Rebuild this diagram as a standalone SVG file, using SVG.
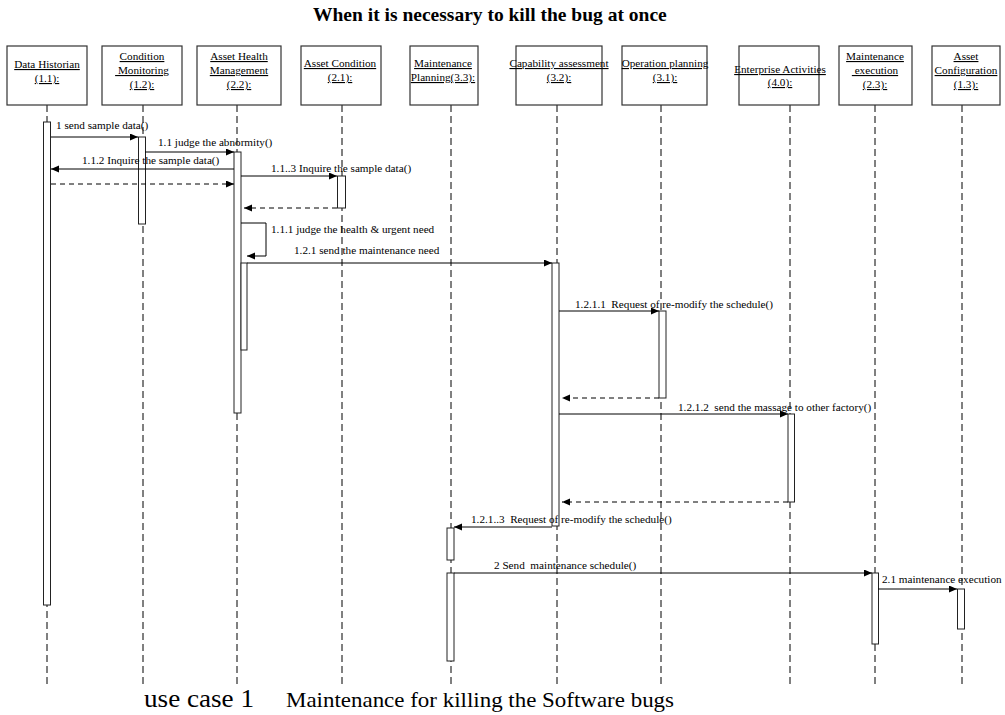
<svg xmlns="http://www.w3.org/2000/svg" width="1005" height="715" viewBox="0 0 1005 715" font-family="'Liberation Serif', 'Times New Roman', serif">
  <defs>
    <marker id="arrow" markerUnits="userSpaceOnUse" markerWidth="9" markerHeight="8" refX="8" refY="3.5" orient="auto">
      <path d="M0,0 L8,3.5 L0,7 z" fill="#000"/>
    </marker>
    <style>
      text { font-family: "Liberation Serif", "Times New Roman", serif; fill: #000; white-space: pre; }
      .title { font-size: 19.5px; font-weight: bold; }
      .obj { fill: #fff; stroke: #333; stroke-width: 1.2; }
      .name { font-size: 11.2px; text-anchor: middle; text-decoration: underline; }
      .life { stroke: #000; stroke-width: 1; stroke-dasharray: 7 4; fill: none; }
      .act { fill: #fff; stroke: #222; stroke-width: 1; }
      .msg { stroke: #000; stroke-width: 1; fill: none; marker-end: url(#arrow); }
      .ret { stroke: #000; stroke-width: 1; fill: none; stroke-dasharray: 5 4; marker-end: url(#arrow); }
      .lbl { font-size: 11.2px; }
      .cap { font-size: 26px; }
      .cap2 { font-size: 21px; }
    </style>
  </defs>

  <rect width="1005" height="715" fill="#fff"/>

  <text class="title" x="313" y="21">When it is necessary to kill the bug at once</text>

  <!-- lifelines -->
  <g id="lifelines">
    <line class="life" x1="47" y1="105" x2="47" y2="685"/>
    <line class="life" x1="143" y1="105" x2="143" y2="685"/>
    <line class="life" x1="237" y1="105" x2="237" y2="685"/>
    <line class="life" x1="342" y1="105" x2="342" y2="685"/>
    <line class="life" x1="451" y1="105" x2="451" y2="685"/>
    <line class="life" x1="557" y1="105" x2="557" y2="685"/>
    <line class="life" x1="661" y1="105" x2="661" y2="685"/>
    <line class="life" x1="790" y1="105" x2="790" y2="685"/>
    <line class="life" x1="875" y1="105" x2="875" y2="685"/>
    <line class="life" x1="962" y1="105" x2="962" y2="685"/>
  </g>

  <!-- objects -->
  <g id="data-historian">
    <rect class="obj" x="7" y="46" width="80" height="59"/>
    <text class="name" x="47" y="68">Data Historian</text>
    <text class="name" x="47" y="82">(1.1):</text>
    <rect class="act" x="43.5" y="122" width="7" height="483"/>
  </g>
  <g id="condition-monitoring">
    <rect class="obj" x="102" y="46" width="80" height="59"/>
    <text class="name" x="142" y="60">Condition</text>
    <text class="name" x="142" y="74" xml:space="preserve"> Monitoring</text>
    <text class="name" x="142" y="88">(1.2):</text>
    <rect class="act" x="138.5" y="137" width="7" height="87"/>
  </g>
  <g id="asset-health-management">
    <rect class="obj" x="197" y="46" width="84" height="59"/>
    <text class="name" x="239" y="60">Asset Health</text>
    <text class="name" x="239" y="74">Management</text>
    <text class="name" x="239" y="88">(2.2):</text>
    <rect class="act" x="234" y="152" width="7" height="261"/>
    <rect class="act" x="241" y="263" width="6" height="87"/>
  </g>
  <g id="asset-condition">
    <rect class="obj" x="301" y="46" width="80" height="59"/>
    <text class="name" x="340" y="67">Asset Condition</text>
    <text class="name" x="340" y="81">(2.1):</text>
    <rect class="act" x="337.5" y="176" width="8" height="32"/>
  </g>
  <g id="maintenance-planning">
    <rect class="obj" x="410" y="46" width="68" height="59"/>
    <text class="name" x="443" y="67">Maintenance</text>
    <text class="name" x="443" y="81">Planning(3.3):</text>
    <rect class="act" x="447" y="528" width="7" height="32"/>
    <rect class="act" x="447" y="573" width="7" height="88"/>
  </g>
  <g id="capability-assessment">
    <rect class="obj" x="516" y="46" width="86" height="59"/>
    <text class="name" x="559" y="67">Capability assessment</text>
    <text class="name" x="559" y="81">(3.2):</text>
    <rect class="act" x="552" y="263" width="7" height="263"/>
  </g>
  <g id="operation-planning">
    <rect class="obj" x="622" y="46" width="85" height="59"/>
    <text class="name" x="665" y="67">Operation planning</text>
    <text class="name" x="665" y="81">(3.1):</text>
    <rect class="act" x="659" y="311" width="7" height="87"/>
  </g>
  <g id="enterprise-activities">
    <rect class="obj" x="739" y="46" width="80" height="59"/>
    <text class="name" x="780" y="73">Enterprise Activities</text>
    <text class="name" x="780" y="86">(4.0):</text>
    <rect class="act" x="788" y="414" width="6.5" height="88"/>
  </g>
  <g id="maintenance-execution">
    <rect class="obj" x="839" y="46" width="73" height="59"/>
    <text class="name" x="875" y="60">Maintenance</text>
    <text class="name" x="875" y="74" xml:space="preserve"> execution</text>
    <text class="name" x="875" y="88">(2.3):</text>
    <rect class="act" x="872" y="573" width="6.5" height="71"/>
  </g>
  <g id="asset-configuration">
    <rect class="obj" x="932" y="46" width="68" height="59"/>
    <text class="name" x="966" y="60">Asset</text>
    <text class="name" x="966" y="74">Configuration</text>
    <text class="name" x="966" y="88">(1.3):</text>
    <rect class="act" x="957.5" y="589" width="7" height="40"/>
  </g>

  <!-- messages -->
  <g id="connectors">
    <line class="msg" x1="51" y1="137" x2="138" y2="137"/>
    <line class="msg" x1="145" y1="152" x2="234" y2="152"/>
    <line class="msg" x1="234" y1="169" x2="51" y2="169"/>
    <line class="ret" x1="51" y1="184" x2="234" y2="184"/>
    <line class="msg" x1="241" y1="176" x2="337" y2="176"/>
    <line class="ret" x1="337" y1="208" x2="244" y2="208"/>
    <path class="msg" d="M241,223 H266 V256 H247"/>
    <line class="msg" x1="247" y1="263" x2="552" y2="263"/>
    <line class="msg" x1="559" y1="311" x2="659" y2="311"/>
    <line class="ret" x1="659" y1="398" x2="562" y2="398"/>
    <line class="msg" x1="559" y1="414" x2="788" y2="414"/>
    <line class="ret" x1="788" y1="502" x2="562" y2="502"/>
    <line class="msg" x1="552" y1="527" x2="454" y2="527"/>
    <line class="msg" x1="454" y1="573" x2="872" y2="573"/>
    <line class="msg" x1="878" y1="589" x2="957" y2="589"/>
  </g>

  <g id="message-labels">
    <text class="lbl" x="56" y="129">1 send sample data()</text>
    <text class="lbl" x="158" y="146">1.1 judge the abnormity()</text>
    <text class="lbl" x="82" y="164">1.1.2 Inquire the sample data()</text>
    <text class="lbl" x="271" y="172">1.1..3 Inquire the sample data()</text>
    <text class="lbl" x="271" y="233">1.1.1 judge the health &amp; urgent need</text>
    <text class="lbl" x="294" y="254">1.2.1 send the maintenance need</text>
    <text class="lbl" x="575" y="308" xml:space="preserve">1.2.1.1  Request of re-modify the schedule()</text>
    <text class="lbl" x="678" y="411" xml:space="preserve">1.2.1.2  send the massage to other factory()</text>
    <text class="lbl" x="471" y="523" xml:space="preserve">1.2.1..3  Request of re-modify the schedule()</text>
    <text class="lbl" x="494" y="569" xml:space="preserve">2 Send  maintenance schedule()</text>
    <text class="lbl" x="882" y="583">2.1 maintenance execution</text>
  </g>

  <!-- caption -->
  <text class="cap" x="144" y="707" textLength="110" lengthAdjust="spacingAndGlyphs">use case 1</text>
  <text class="cap2" x="286" y="707" textLength="388" lengthAdjust="spacingAndGlyphs">Maintenance for killing the Software bugs</text>
</svg>
